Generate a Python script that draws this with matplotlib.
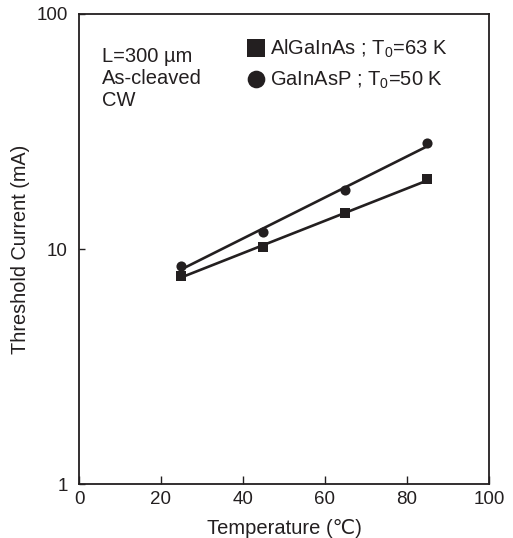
import numpy as np
import matplotlib
matplotlib.use('Agg')
import matplotlib.pyplot as plt
from matplotlib.lines import Line2D

plt.rcParams['font.family'] = ['Liberation Sans', 'DejaVu Sans']
plt.rcParams['mathtext.fontset'] = 'custom'
plt.rcParams['mathtext.rm'] = 'Liberation Sans'
plt.rcParams['mathtext.it'] = 'Liberation Sans'

INK = '#231f20'

# measured threshold currents
temperature = [25, 45, 65, 85]
algainas_ith = [7.7, 10.2, 14.2, 19.8]
gainasp_ith = [8.5, 11.8, 17.8, 28.3]

labels = ['AlGaInAs ; T$_0$=63 K', 'GaInAsP ; T$_0$=50 K']
conditions = ['L=300 \u00b5m', 'As-cleaved', 'CW']


def exp_fit(x, y):
    # straight line on the log axis
    k, b = np.polyfit(x, np.log(y), 1)
    xs = np.array([min(x), max(x)])
    return xs, np.exp(k * xs + b)


fig = plt.figure(figsize=(5.13, 5.38), dpi=100)
ax = fig.add_axes([0.154, 0.100, 0.799, 0.874])

for ys, mk, ms in [(algainas_ith, 's', 7.0), (gainasp_ith, 'o', 7.3)]:
    fx, fy = exp_fit(temperature, ys)
    ax.plot(fx, fy, color=INK, lw=1.9, solid_capstyle='butt')
    ax.plot(temperature, ys, mk, color=INK, ms=ms, mew=0)

ax.set_yscale('log')
ax.set_xlim(0, 100)
ax.set_ylim(1, 100)
ax.set_xticks([0, 20, 40, 60, 80, 100])
ax.set_yticks([1, 10, 100])
ax.set_yticklabels(['1', '10', '100'])
ax.yaxis.set_minor_locator(matplotlib.ticker.NullLocator())
ax.tick_params(direction='in', length=6, width=1, color=INK, labelsize=13.5,
               labelcolor=INK)
ax.tick_params(axis='x', pad=5)
ax.tick_params(axis='y', length=4, pad=8)
for s in ax.spines.values():
    s.set_color(INK)
    s.set_linewidth(1.3)

ax.set_xlabel('Temperature (\u2103)', fontsize=14.5, color=INK, labelpad=8)
ax.set_ylabel('Threshold Current (mA)', fontsize=14.3, color=INK, labelpad=5)

ax.text(0.057, 0.93, '\n'.join(conditions), transform=ax.transAxes,
        fontsize=14.5, color=INK, va='top', ha='left', linespacing=1.2)

handles = [Line2D([], [], ls='none', marker='s', ms=12.5, color=INK, mew=0),
           Line2D([], [], ls='none', marker='o', ms=12.7, color=INK, mew=0)]
ax.legend(handles, labels, loc='upper left', bbox_to_anchor=(0.367, 0.983),
          frameon=False, fontsize=14.5, handlelength=1.0, handletextpad=0.2,
          labelspacing=0.48, borderpad=0.3, labelcolor=INK)

fig.savefig('out.png', dpi=100)
